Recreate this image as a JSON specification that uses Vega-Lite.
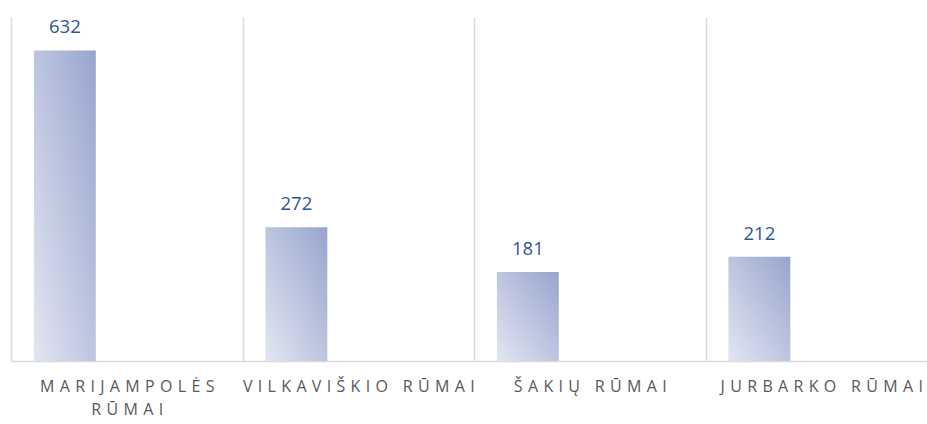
{
  "$schema": "https://vega.github.io/schema/vega-lite/v6.json",
  "width": 926,
  "height": 344,
  "autosize": {"type": "none"},
  "padding": {"left": 11, "top": 17, "right": 0, "bottom": 63},
  "background": "white",
  "config": {"view": {"stroke": null}},
  "data": {
    "values": [
      {"court": "MARIJAMPOLĖS RŪMAI", "series": "A", "value": 632},
      {"court": "VILKAVIŠKIO RŪMAI", "series": "A", "value": 272},
      {"court": "ŠAKIŲ RŪMAI", "series": "A", "value": 181},
      {"court": "JURBARKO RŪMAI", "series": "A", "value": 212}
    ]
  },
  "encoding": {
    "x": {
      "field": "court",
      "type": "nominal",
      "sort": null,
      "scale": {"paddingInner": 0, "paddingOuter": 0},
      "axis": {
        "title": null,
        "tickBand": "extent",
        "grid": true,
        "gridColor": "#d9d9d9",
        "gridWidth": 1.5,
        "domainColor": "#d9d9d9",
        "domainWidth": 1.5,
        "ticks": false,
        "labelAngle": 0,
        "labelFont": "Open Sans",
        "labelFontSize": 16,
        "labelColor": "#595959",
        "labelPadding": 17,
        "labelLineHeight": 23,
        "labelLimit": 0,
        "labelExpr": "indexof(datum.label,'MARIJAMPOL')==0 ? [join(split('MARIJAMPOLĖS',''),'\u2004'), join(split('RŪMAI',''),'\u2004')] : join(split(datum.label,''),'\u2004')"
      }
    },
    "xOffset": {
      "field": "series",
      "type": "nominal",
      "scale": {"domain": ["A", "B", "C"], "paddingInner": 0, "paddingOuter": 0.37}
    },
    "y": {
      "field": "value",
      "type": "quantitative",
      "scale": {"domain": [0, 700]},
      "axis": null
    }
  },
  "layer": [
    {
      "mark": {
        "type": "bar",
        "fill": {
          "gradient": "linear",
          "x1": 0, "y1": 1, "x2": 1, "y2": 0,
          "stops": [
            {"offset": 0, "color": "#e3e6f1"},
            {"offset": 1, "color": "#97a4ce"}
          ]
        }
      }
    },
    {
      "mark": {
        "type": "text",
        "baseline": "alphabetic",
        "dy": -17,
        "font": "Open Sans",
        "fontSize": 18.5,
        "color": "#2f5597"
      },
      "encoding": {"text": {"field": "value", "type": "quantitative"}}
    }
  ]
}
